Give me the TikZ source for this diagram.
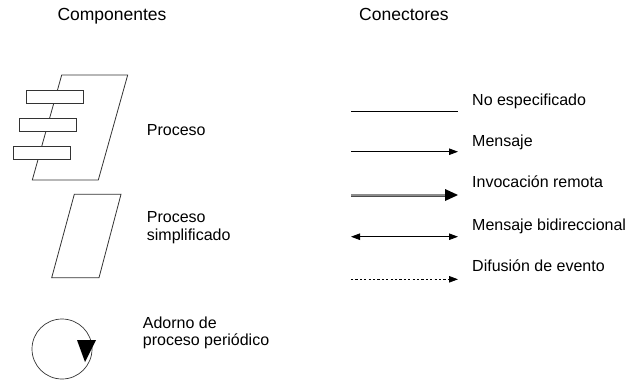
\documentclass[tikz,border=0pt]{standalone}
\usepackage{fontspec}
\setmainfont{Liberation Sans}
\usetikzlibrary{arrows.meta,calc}
\begin{document}
\begin{tikzpicture}[x=1pt,y=-1pt,
  shape line/.style={draw=black!80, line width=0.8pt},
  lbl/.style={anchor=base west, inner sep=0pt, font=\fontsize{16}{17.5}\selectfont, align=left},
  ttl/.style={lbl, font=\fontsize{17.5}{19}\selectfont},
  conn/.style={line width=0.8pt},
  tip/.style={-{Triangle[length=9pt,width=6.5pt]}},
  bar/.style={draw=black!80, line width=0.8pt, fill=white, minimum width=57pt, minimum height=13pt, inner sep=0pt}]
\useasboundingbox (0,0) rectangle (631,384);
% titles
\node[ttl] (tcomp) at (57.3,20.7) {Componentes};
\node[ttl] (tconn) at (359,20.7) {Conectores};
% process
\draw[shape line] (61.7,75) -- (127.7,75) -- (98.3,180) -- (32.3,180) -- cycle;
\node[bar] (r1) at (54.6,96.7) {};
\node[bar] (r2) at (48.0,125.0) {};
\node[bar] (r3) at (41.8,152.5) {};
\node[lbl] (lproc) at (146.7,135) {Proceso};
% simplified process
\draw[shape line] (74.3,194.3) -- (121,194.3) -- (99,277.7) -- (51.7,277.7) -- cycle;
\node[lbl] (lsimp) at (146.7,240) {Proceso\\simplificado};
% periodic
\draw[line width=0.7pt, draw=black!80] (62,349) circle (30);
\fill (77,340) -- (96,340) -- (85,362) -- cycle;
\node[lbl] (lper) at (142.7,345.7) {Adorno de\\proceso periódico};
% connectors
\coordinate (a1) at (351,111.7); \coordinate (b1) at (458,111.7);
\coordinate (a2) at (351,151.7); \coordinate (b2) at (458,151.7);
\coordinate (a3) at (351,195);   \coordinate (b3) at (458,195);
\coordinate (a4) at (351,236.7); \coordinate (b4) at (458,236.7);
\coordinate (a5) at (351,279.3); \coordinate (b5) at (458,279.3);
\draw[conn] (a1) -- (b1);
\draw[conn, tip] (a2) -- (b2);
\draw[line width=0.9pt, double=black!45, double distance=1.2pt, draw=black!70] (a3) -- ($(b3)+(-10,0)$);
\fill (b3) -- ++(-13,-6) -- ++(0,12) -- cycle;
\draw[conn, {Triangle[length=9pt,width=6.5pt]}-{Triangle[length=9pt,width=6.5pt]}] (a4) -- (b4);
\draw[conn, tip, dash pattern=on 2.2pt off 2.2pt] (a5) -- (b5);
\node[lbl] (l1) at (472,105) {No especificado};
\node[lbl] (l2) at (472,146) {Mensaje};
\node[lbl] (l3) at (472,187) {Invocación remota};
\node[lbl] (l4) at (472,230) {Mensaje bidireccional};
\node[lbl] (l5) at (472,271.7) {Difusión de evento};
\end{tikzpicture}
\end{document}
